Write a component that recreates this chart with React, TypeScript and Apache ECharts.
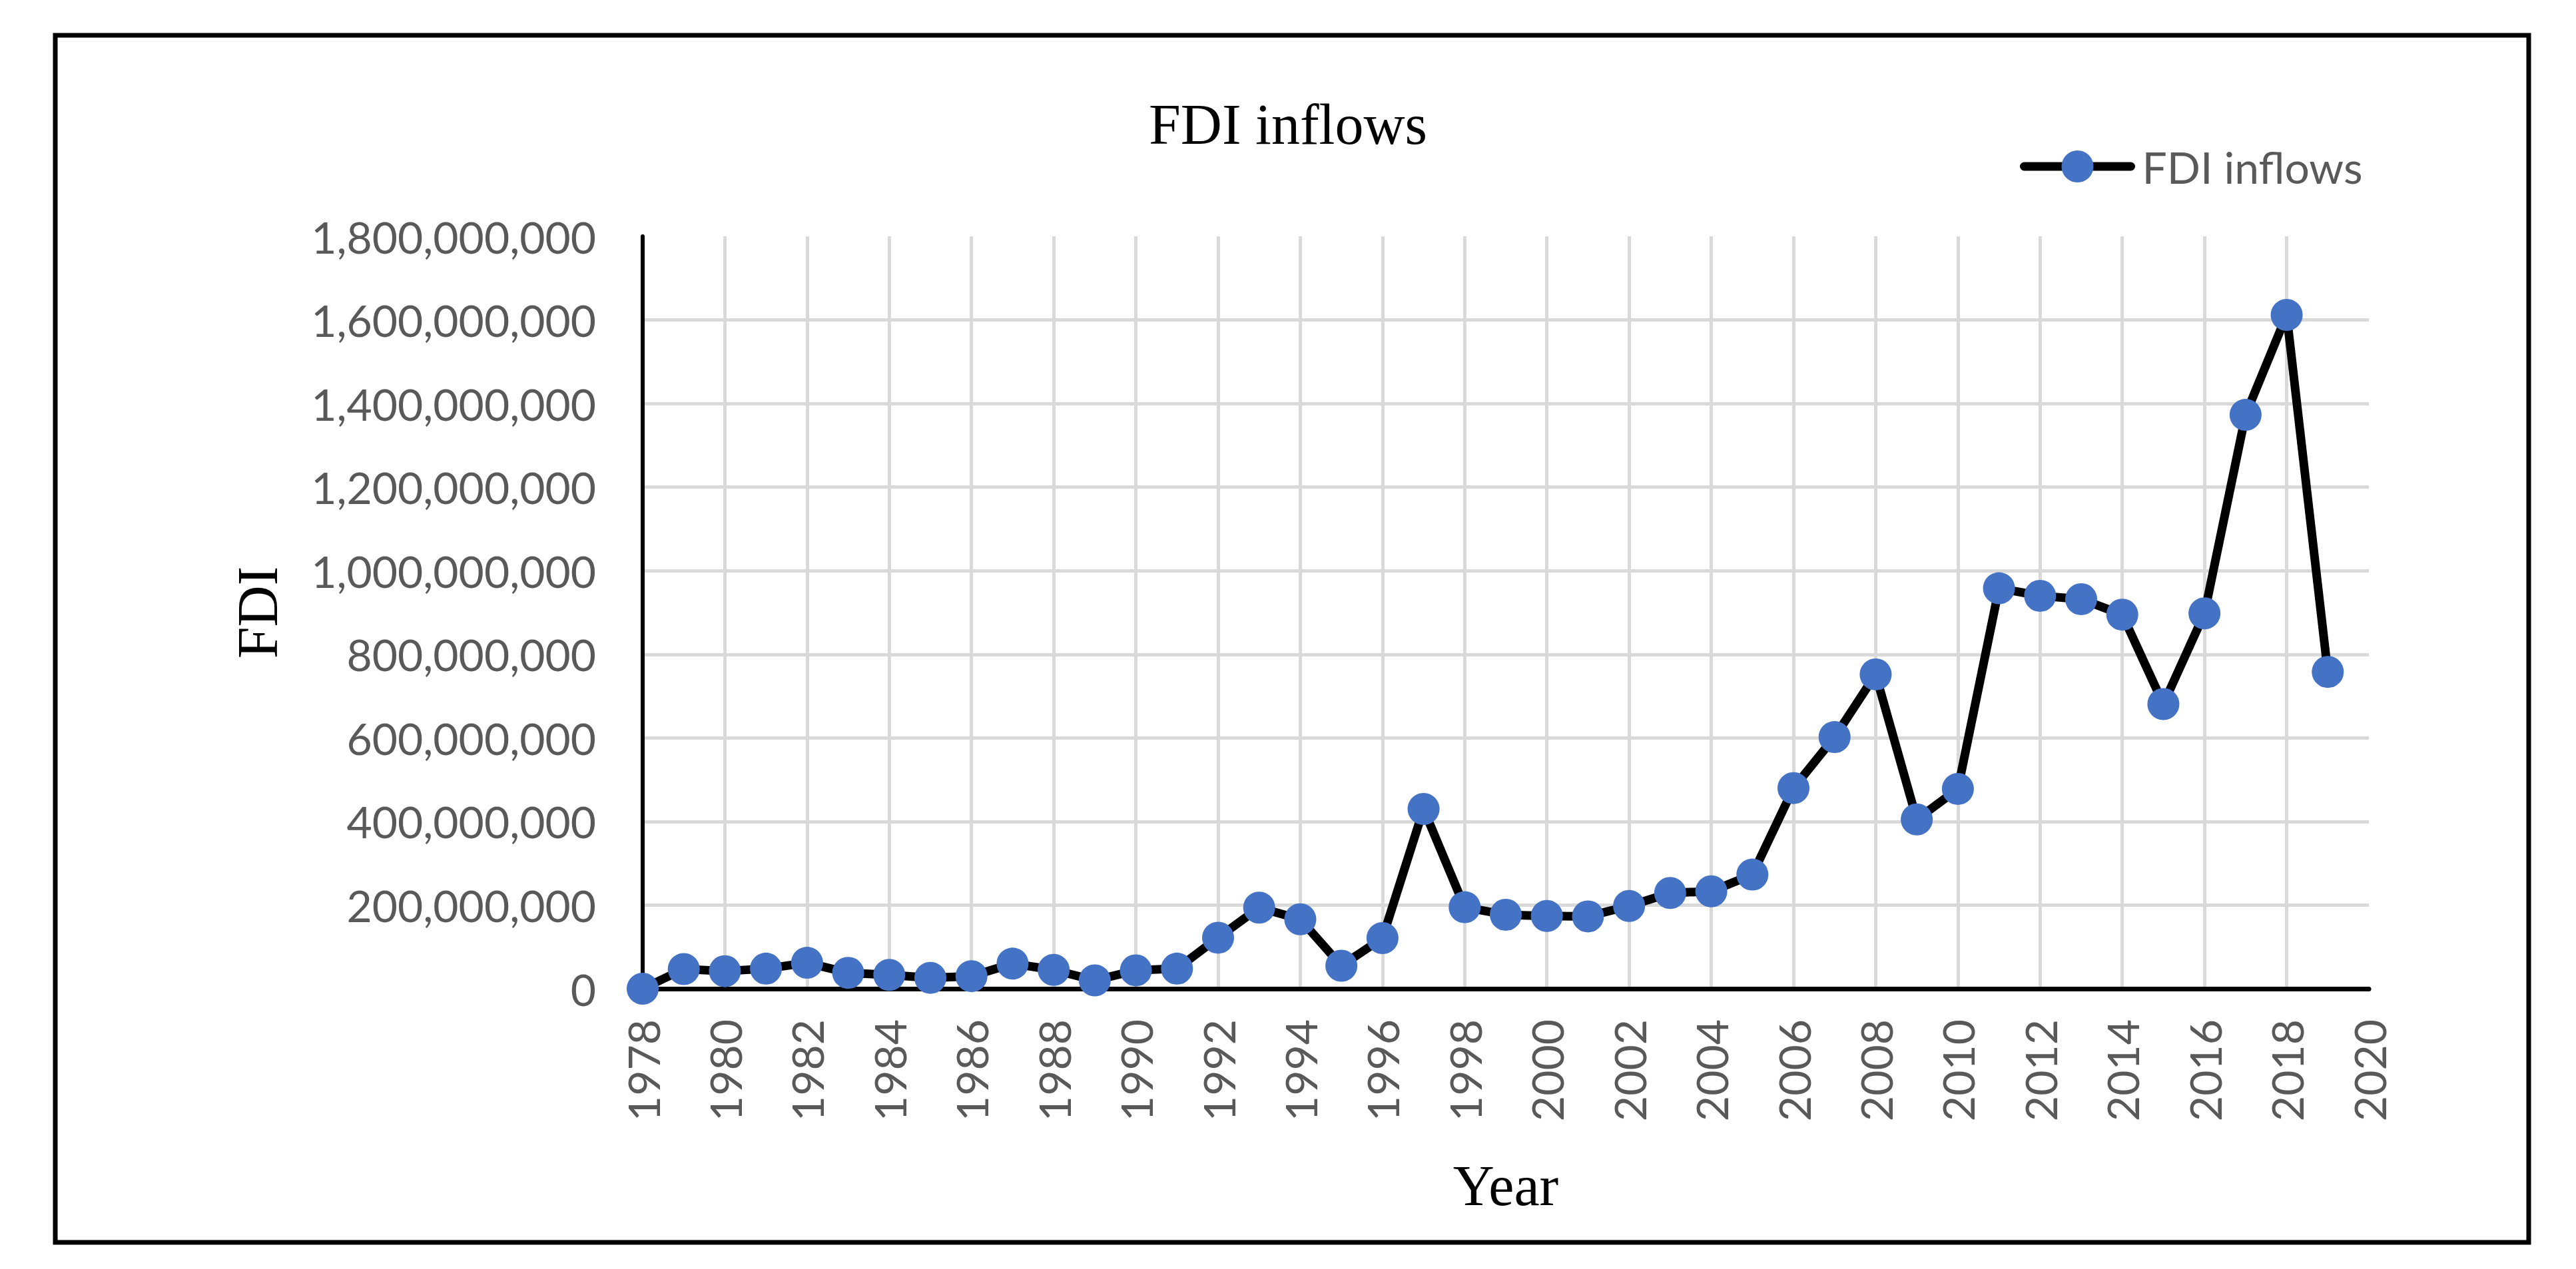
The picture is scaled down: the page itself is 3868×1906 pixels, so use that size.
import React, { useEffect, useRef } from "react";
import * as echarts from "echarts";

const years: number[] = [
  1978, 1979, 1980, 1981, 1982, 1983, 1984, 1985, 1986, 1987, 1988, 1989, 1990, 1991,
  1992, 1993, 1994, 1995, 1996, 1997, 1998, 1999, 2000, 2001, 2002, 2003, 2004, 2005,
  2006, 2007, 2008, 2009, 2010, 2011, 2012, 2013, 2014, 2015, 2016, 2017, 2018, 2019,
];

const fdiInflows: number[] = [
  0, 47e6, 42e6, 48e6, 62e6, 38e6, 33e6, 26e6, 30e6, 60e6, 45e6, 20e6, 44e6, 48e6,
  122e6, 194e6, 166e6, 55e6, 121e6, 430e6, 195e6, 177e6, 174e6, 173e6, 198e6, 229e6, 233e6, 273e6,
  480e6, 602e6, 752e6, 405e6, 478e6, 958e6, 940e6, 932e6, 895e6, 681e6, 898e6, 1373e6, 1612e6, 758e6,
];

const seriesName = "FDI inflows";
const chartTitle = "FDI inflows";
const xAxisTitle = "Year";
const yAxisTitle = "FDI";
const xMin = 1978;
const xMax = 2020;
const xStep = 2;
const yMin = 0;
const yMax = 1800000000;
const yStep = 200000000;

const W = 3868;
const H = 1906;
const SANS = "Lato, 'Open Sans', sans-serif";
const SERIF = "'Liberation Serif', 'Times New Roman', serif";
const LABEL_COLOR = "#595959";

export default function App() {
  const ref = useRef<HTMLDivElement>(null);

  useEffect(() => {
    if (!ref.current) return;
    const chart = echarts.init(ref.current, undefined, { renderer: "svg", width: W, height: H });
    const data = years.map((y, i) => [y, fdiInflows[i]]);

    const gridLeft = 965;
    const gridRight = W - 3557;
    const gridTop = 355;
    const gridBottom = H - 1485;

    chart.setOption({
      animation: false,
      backgroundColor: "#ffffff",
      title: {
        text: chartTitle,
        left: "center",
        top: 139,
        textStyle: { fontFamily: SERIF, fontSize: 86, fontWeight: "normal", color: "#000000" },
      },
      legend: {
        show: true,
        left: 3028,
        top: 212,
        padding: 5,
        itemWidth: 160,
        itemHeight: 60,
        lineStyle: { color: "#000000", width: 13, cap: "round" },
        itemStyle: { color: "#4472C4", borderWidth: 0 },
        textStyle: {
          fontFamily: SANS,
          fontSize: 66,
          color: LABEL_COLOR,
          padding: [0, 0, 0, 12],
        },
        data: [seriesName],
      },
      grid: { left: gridLeft, right: gridRight, top: gridTop, bottom: gridBottom, containLabel: false },
      xAxis: {
        type: "value",
        min: xMin,
        max: xMax,
        interval: xStep,
        axisLine: { show: true, onZero: false, lineStyle: { color: "#000000", width: 7 } },
        axisTick: { show: false },
        axisLabel: {
          rotate: 90,
          margin: 46,
          fontFamily: SANS,
          fontSize: 66,
          color: LABEL_COLOR,
          formatter: (v: number) => String(v),
        },
        splitLine: {
          show: true,
          showMinLine: false,
          showMaxLine: false,
          lineStyle: { color: "#d9d9d9", width: 5 },
        },
      },
      yAxis: {
        type: "value",
        min: yMin,
        max: yMax,
        interval: yStep,
        axisLine: { show: true, onZero: false, lineStyle: { color: "#000000", width: 6 } },
        axisTick: { show: false },
        axisLabel: {
          margin: 70,
          fontFamily: SANS,
          fontSize: 66,
          color: LABEL_COLOR,
          formatter: (v: number) => v.toLocaleString("en-US"),
        },
        splitLine: {
          show: true,
          showMinLine: false,
          showMaxLine: false,
          lineStyle: { color: "#d9d9d9", width: 5 },
        },
      },
      series: [
        {
          name: seriesName,
          type: "line",
          data,
          clip: false,
          symbol: "circle",
          symbolSize: 48,
          showAllSymbol: true,
          lineStyle: { color: "#000000", width: 13, cap: "round", join: "round" },
          itemStyle: { color: "#4472C4", borderWidth: 0 },
          z: 5,
        },
      ],
      graphic: [
        {
          type: "rect",
          shape: { x: 83, y: 53, width: 3797 - 83, height: 1866 - 53 },
          style: { fill: "none", stroke: "#000000", lineWidth: 7 },
          silent: true,
          z: 100,
        },
        {
          type: "text",
          x: 387,
          y: 920,
          rotation: Math.PI / 2,
          style: {
            text: yAxisTitle,
            fontFamily: SERIF,
            fontSize: 86,
            fill: "#000000",
            textAlign: "center",
            textVerticalAlign: "middle",
          },
        },
        {
          type: "text",
          x: 2261,
          y: 1781,
          style: {
            text: xAxisTitle,
            fontFamily: SERIF,
            fontSize: 86,
            fill: "#000000",
            textAlign: "center",
            textVerticalAlign: "middle",
          },
        },
      ],
    });

    return () => {
      chart.dispose();
    };
  }, []);

  return (
    <div
      ref={ref}
      style={{ position: "fixed", left: 0, top: 0, width: W, height: H, background: "#ffffff" }}
    />
  );
}
